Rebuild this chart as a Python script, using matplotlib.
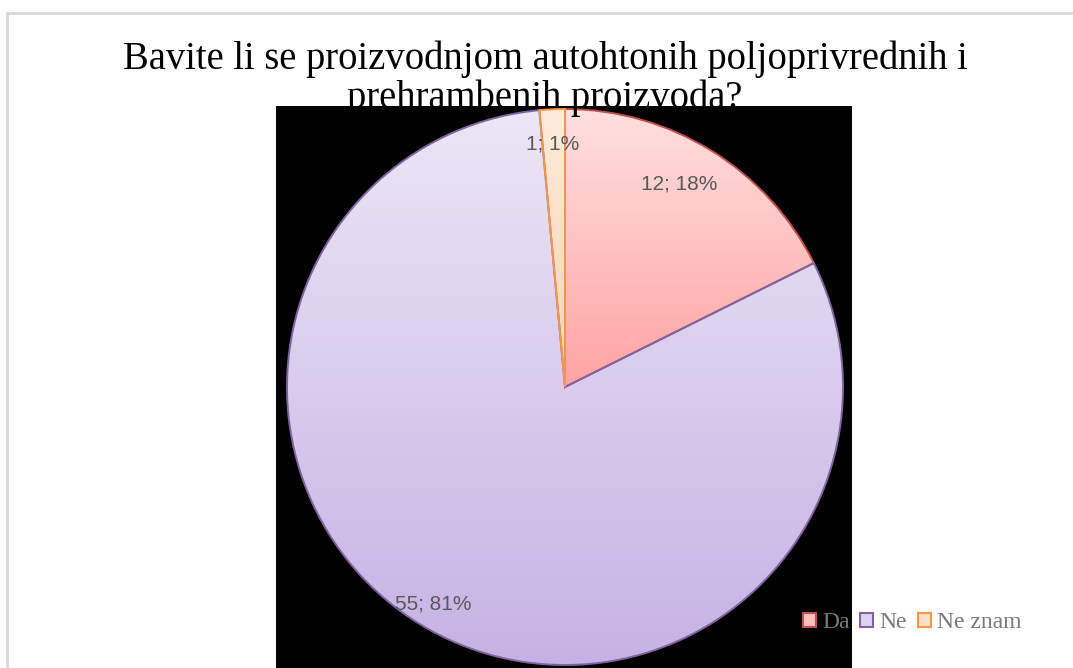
import numpy as np
import matplotlib
matplotlib.use("Agg")
import matplotlib.pyplot as plt
from matplotlib.patches import Rectangle, Patch
from matplotlib.colors import LinearSegmentedColormap

# ---- data ----
categories = ["Da", "Ne", "Ne znam"]
values = [12, 55, 1]
labels = ["12; 18%", "55; 81%", "1; 1%"]
title = "Bavite li se proizvodnjom autohtonih poljoprivrednih i\nprehrambenih proizvoda?"

edge_colors = ["#c0504d", "#8064a2", "#f79646"]
grad_top = ["#ffe0e0", "#ece6f6", "#fdebdc"]
grad_bottom = ["#ffa3a3", "#c6b2e4", "#fcd2b0"]
legend_fill = ["#ffbdbd", "#ddd2ef", "#fde0c8"]

W, H = 1073, 668
fig = plt.figure(figsize=(W / 100, H / 100), dpi=100)
fig.patch.set_facecolor("white")

# outer light border (left + top)
fig.add_artist(plt.Line2D([7 / W, 7 / W], [0, 1 - 13 / H], transform=fig.transFigure,
                          color="#d9d9d9", lw=2, zorder=0))
fig.add_artist(plt.Line2D([7 / W, 1], [1 - 13 / H, 1 - 13 / H], transform=fig.transFigure,
                          color="#d9d9d9", lw=2, zorder=0))

# black plot-area rectangle
fig.add_artist(Rectangle((276 / W, 0), (852 - 276) / W, (H - 106) / H,
                         transform=fig.transFigure, facecolor="black", edgecolor="none", zorder=0.5))

# pie axes: center (565,387), radius 278 px
cx, cy, r = 565, 387, 278
ax = fig.add_axes([(cx - r) / W, (H - cy - r) / H, 2 * r / W, 2 * r / H])
ax.set_xlim(-1, 1)
ax.set_ylim(-1, 1)
ax.set_aspect("equal")
ax.axis("off")
ax.set_zorder(1)

wedges, _ = ax.pie(values, startangle=90, counterclock=False, radius=1,
                   wedgeprops=dict(linewidth=1.4), colors=legend_fill)
for w, ec, top, bot in zip(wedges, edge_colors, grad_top, grad_bottom):
    w.set_edgecolor(ec)
    w.set_facecolor("none")
    w.set_zorder(3)
    verts = w.get_path().vertices
    y0, y1 = max(verts[:, 1].min(), -1), min(verts[:, 1].max(), 1)
    x0, x1 = max(verts[:, 0].min(), -1), min(verts[:, 0].max(), 1)
    cmap = LinearSegmentedColormap.from_list("g", [bot, top])
    grad = np.linspace(0, 1, 256).reshape(-1, 1)
    im = ax.imshow(grad, cmap=cmap, origin="lower", extent=[x0, x1, y0, y1],
                   aspect="auto", zorder=2, interpolation="bilinear")
    im.set_clip_path(w)
ax.set_xlim(-1, 1)
ax.set_ylim(-1, 1)

# data labels
label_pos = {"Da": (0.41, 0.73), "Ne": (-0.475, -0.78), "Ne znam": (-0.045, 0.875)}
for cat, lab in zip(categories, labels):
    x, y = label_pos[cat]
    ax.text(x, y, lab, ha="center", va="center", fontsize=15,
            family="Liberation Sans", color="#595959", zorder=5)

# title (last line baseline partly hidden by the black plot area, drawn over it in black)
fig.text(545 / W, 1 - 108 / H, title, ha="center", va="baseline", fontsize=27.8,
         family="Liberation Serif", color="black", linespacing=1.07, zorder=10,
         multialignment="center")

# legend
handles = [Patch(facecolor=f, edgecolor=e, linewidth=1.5) for f, e in zip(legend_fill, edge_colors)]
leg = fig.legend(handles, categories, loc="center left", bbox_to_anchor=(803 / W, 1 - 623 / H),
                 ncol=3, frameon=False, prop=dict(family="Liberation Serif", size=17),
                 handlelength=0.55, handleheight=0.55, handletextpad=0.25, columnspacing=0.47,
                 borderpad=0, borderaxespad=0)
for t in leg.get_texts():
    t.set_color("#7a7a7a")
leg.set_zorder(10)

fig.savefig("out.png", dpi=100)
